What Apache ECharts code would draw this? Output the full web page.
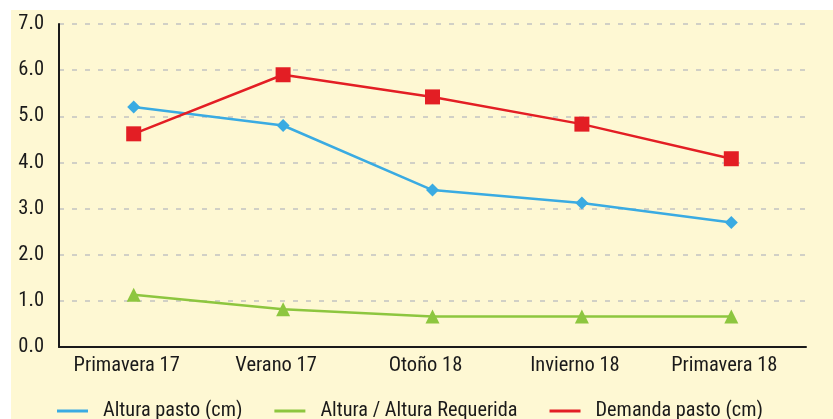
<!DOCTYPE html>
<html><head><meta charset="utf-8">
<script src="https://cdn.jsdelivr.net/npm/echarts@6/dist/echarts.min.js"></script>
<style>html,body{margin:0;padding:0;background:#fff}#c{width:833px;height:419px}</style>
</head><body><div id="c"></div>
<script>
const categories = ['Primavera 17','Verano 17','Otoño 18','Invierno 18','Primavera 18'];
const alturaPasto = [5.2, 4.8, 3.4, 3.12, 2.7];
const alturaRelativa = [1.13, 0.82, 0.66, 0.66, 0.66];
const demandaPasto = [4.62, 5.9, 5.42, 4.83, 4.08];
const seriesNames = ['Altura pasto (cm)','Altura / Altura Requerida','Demanda pasto (cm)'];
const yTicks = {min:0, max:7, interval:1};

const font = '"Roboto Condensed","Liberation Sans Narrow",sans-serif';
const chart = echarts.init(document.getElementById('c'));
chart.setOption({
  animation:false,
  graphic:[{type:'rect',z:-10,shape:{x:11,y:10,width:822,height:409},style:{fill:'#FEF8D3'}}],
  grid:{left:59,right:27,top:24,bottom:72,containLabel:false},
  legend:{top:396,left:52,itemWidth:31,itemHeight:3,itemGap:32,icon:'rect',
    textStyle:{fontFamily:font,fontSize:20.3,color:'#1a1a1a',padding:[0,0,0,10]},
    data:seriesNames},
  xAxis:{type:'category',data:categories,boundaryGap:true,
    axisLine:{lineStyle:{color:'#1a1a1a',width:2}},axisTick:{show:false},
    axisLabel:{fontFamily:font,fontSize:20.5,color:'#1a1a1a',margin:8,padding:[0,14,0,0]}},
  yAxis:{type:'value',min:yTicks.min,max:yTicks.max,interval:yTicks.interval,
    axisLine:{show:true,lineStyle:{color:'#1a1a1a',width:2}},
    axisTick:{show:false},
    axisLabel:{fontFamily:font,fontSize:20.5,color:'#1a1a1a',margin:15,formatter:v=>v.toFixed(1)},
    splitLine:{lineStyle:{color:'#C2C2C2',type:[5,8],width:1.5}}},
  series:[
    {name:seriesNames[0],type:'line',data:alturaPasto,color:'#3AABE2',symbol:'diamond',symbolSize:13,
      lineStyle:{width:2.5,color:'#3AABE2'},itemStyle:{color:'#3AABE2'}},
    {name:seriesNames[1],type:'line',data:alturaRelativa,color:'#8DC63F',symbol:'triangle',symbolSize:14,
      lineStyle:{width:2.5,color:'#8DC63F'},itemStyle:{color:'#8DC63F'}},
    {name:seriesNames[2],type:'line',data:demandaPasto,color:'#E31E24',symbol:'rect',symbolSize:15,
      lineStyle:{width:2.5,color:'#E31E24'},itemStyle:{color:'#E31E24'}}
  ]
});
</script></body></html>
